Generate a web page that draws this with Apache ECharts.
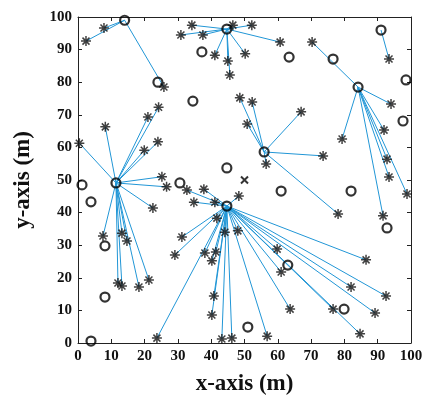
<!DOCTYPE html>
<html>
<head>
<meta charset="utf-8">
<script src="https://cdn.jsdelivr.net/npm/echarts@6/dist/echarts.min.js"></script>
<style>
html,body{margin:0;padding:0;background:#fff;}
#main{width:429px;height:402px;}
</style>
</head>
<body>
<div id="main"></div>
<script>
// cluster heads (circles with links)
var heads = [
	[14, 99], [44.7, 96.3], [11.4, 49.1], [44.7, 42],
	[55.9, 58.6], [84.1, 78.5], [91, 96]
];
// member nodes: [head index, x, y]
var members = [
	[0, 7.8, 96.6], [0, 2.4, 92.6], [0, 25.8, 78.5],
	[1, 34.2, 97.5], [1, 30.9, 94.5], [1, 37.5, 94.5], [1, 46.5, 97.5], [1, 52.2, 97.5],
	[1, 60.7, 92.3], [1, 41.1, 88.3], [1, 50.2, 88.7], [1, 45, 86.5], [1, 45.6, 82.2],
	[2, 0.4, 61.3], [2, 8.2, 66.3], [2, 21, 69.3], [2, 24.2, 72.3], [2, 19.9, 59.1],
	[2, 24, 61.7], [2, 25.2, 51], [2, 26.6, 47.9], [2, 22.5, 41.4], [2, 7.5, 32.8],
	[2, 13.2, 33.7], [2, 14.7, 31.3], [2, 12, 18.4], [2, 13.2, 17.5], [2, 18.3, 17.2],
	[2, 21.3, 19.3],
	[3, 32.7, 46.9], [3, 37.8, 47.2], [3, 34.8, 43.2], [3, 41.1, 43.2], [3, 48.3, 45.1],
	[3, 41.7, 38.3], [3, 44.1, 34], [3, 48, 34.4], [3, 31.2, 32.5], [3, 29.1, 27],
	[3, 38.1, 27.6], [3, 41.4, 27.9], [3, 40.2, 25.2], [3, 40.8, 14.4], [3, 40.2, 8.6],
	[3, 23.7, 1.5], [3, 43.2, 1.2], [3, 46.2, 1.5], [3, 59.8, 28.8], [3, 61, 21.8],
	[3, 63.7, 10.4], [3, 56.8, 2.1], [3, 76.6, 10.4], [3, 84.7, 2.8], [3, 82, 17.2],
	[3, 89.2, 9.2], [3, 92.5, 14.4], [3, 86.5, 25.5],
	[4, 48.6, 75.2], [4, 52.3, 73.9], [4, 50.8, 67.2], [4, 67, 70.9], [4, 73.6, 57.4],
	[4, 56.5, 54.9], [4, 78.1, 39.6],
	[5, 70.3, 92.3], [5, 94, 73.3], [5, 79.3, 62.6], [5, 91.9, 65.3], [5, 92.8, 56.4],
	[5, 93.4, 50.9], [5, 91.6, 39], [5, 98.8, 45.7],
	[6, 93.4, 87.1]
];
// circles without links
var idle = [
	[24, 80], [37.2, 89.3], [34.5, 74.2], [44.7, 53.7], [63.4, 87.7], [76.6, 87.1],
	[98.5, 80.7], [97.6, 68.1], [61, 46.6], [82, 46.6], [92.8, 35.3], [63, 23.9],
	[79.9, 10.4], [51, 4.9], [1.2, 48.5], [3.9, 43.3], [30.6, 49.1], [8.1, 29.8],
	[8.1, 14.1], [3.9, 0.6]
];
var sink = [[50, 50]];
var axisMin = 0, axisMax = 100, axisStep = 10;

var star = 'path://M5,0L5,10M0,5L10,5M1.5,1.5L8.5,8.5M1.5,8.5L8.5,1.5';
var cross = 'path://M0,0L10,10M0,10L10,0';
var font = "'Liberation Serif', 'DejaVu Serif', serif";

var links = [];
var memberPts = [];
for (var i = 0; i < members.length; i++) {
	var h = heads[members[i][0]];
	links.push({coords: [h, [members[i][1], members[i][2]]]});
	memberPts.push([members[i][1], members[i][2]]);
}

function axisBase(pos, showLabel) {
	return {
		type: 'value', min: axisMin, max: axisMax, interval: axisStep,
		position: pos,
		axisLine: {show: true, onZero: false, lineStyle: {color: '#222', width: 1}},
		axisTick: {show: true, inside: true, length: 4, lineStyle: {color: '#222'}},
		axisLabel: {show: showLabel, color: '#111', fontFamily: font, fontWeight: 'bold', fontSize: 15, margin: 6},
		splitLine: {show: false}
	};
}

var xb = axisBase('bottom', true);
xb.name = 'x-axis (m)';
xb.nameLocation = 'middle';
xb.nameGap = 30;
xb.nameTextStyle = {color: '#111', fontFamily: font, fontWeight: 'bold', fontSize: 23};
var yl = axisBase('left', true);
yl.name = 'y-axis (m)';
yl.nameLocation = 'middle';
yl.nameGap = 43;
yl.nameTextStyle = {color: '#111', fontFamily: font, fontWeight: 'bold', fontSize: 23};

var myChart = echarts.init(document.getElementById('main'));
var option = {
	animation: false,
	grid: {left: 78, top: 17, width: 333, height: 326},
	xAxis: [xb, axisBase('top', false)],
	yAxis: [yl, axisBase('right', false)],
	series: [
		{
			type: 'lines', coordinateSystem: 'cartesian2d', z: 1,
			lineStyle: {color: '#2196d6', width: 1, opacity: 1},
			data: links
		},
		{
			type: 'scatter', z: 3, symbol: star, symbolSize: 10,
			itemStyle: {color: 'transparent', borderColor: '#111', borderWidth: 1.5},
			data: memberPts
		},
		{
			type: 'scatter', z: 3, symbol: 'circle', symbolSize: 9,
			itemStyle: {color: 'transparent', borderColor: '#000', borderWidth: 2.2},
			data: heads.concat(idle)
		},
		{
			type: 'scatter', z: 3, symbol: cross, symbolSize: 7,
			itemStyle: {color: 'transparent', borderColor: '#000', borderWidth: 2},
			data: sink
		}
	]
};
myChart.setOption(option);
</script>
</body>
</html>
